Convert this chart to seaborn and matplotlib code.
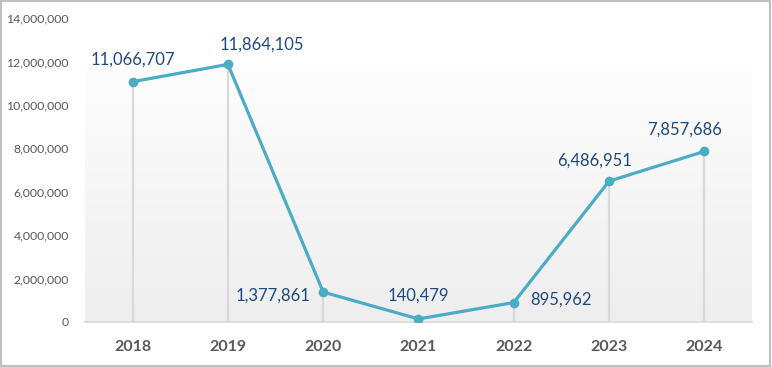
import numpy as np
import pandas as pd
import matplotlib
matplotlib.use("Agg")
import matplotlib.pyplot as plt
import seaborn as sns
from matplotlib.patches import Rectangle

years = ["2018", "2019", "2020", "2021", "2022", "2023", "2024"]
values = [11066707, 11864105, 1377861, 140479, 895962, 6486951, 7857686]
y_ticks = [0, 2000000, 4000000, 6000000, 8000000, 10000000, 12000000, 14000000]

# label placement per point: (dx px, dy px, horizontal alignment)
label_pos = [(0, 22, "center"), (34, 20, "center"), (-13, -4, "right"),
             (0, 23, "center"), (16, 3, "left"), (-15, 21, "center"),
             (-20, 22, "center")]

LINE_COLOR = "#4bacc6"
LABEL_COLOR = "#1f497d"
TICK_COLOR = "#595959"
DROP_COLOR = "#d9d9d9"


def main():
    sns.set_theme(style="white")
    plt.rcParams["font.family"] = ["Lato", "DejaVu Sans"]

    df = pd.DataFrame({"pos": np.arange(len(years)), "value": values})

    fig = plt.figure(figsize=(7.72, 3.67), dpi=100)
    fig.patch.set_facecolor("white")
    ax = fig.add_axes([85 / 772, 45 / 367, 667 / 772, 304 / 367])
    ax.set_facecolor("none")

    ax.set_xlim(-0.5, len(years) - 0.5)
    ax.set_ylim(0, 14000000)

    # gradient plot-area background
    grad = np.linspace(0, 1, 256).reshape(-1, 1)
    cmap = matplotlib.colors.LinearSegmentedColormap.from_list("bg", ["#fdfdfd", "#eeeeee"])
    ax.imshow(grad, extent=(-0.5, len(years) - 0.5, 0, 11600000), aspect="auto",
              cmap=cmap, origin="upper", zorder=0)

    # drop lines
    ax.vlines(df["pos"], 0, df["value"], color=DROP_COLOR, linewidth=1.6, zorder=1)

    sns.lineplot(data=df, x="pos", y="value", ax=ax, color=LINE_COLOR, linewidth=2.3,
                 marker="o", markersize=7, markeredgewidth=0, zorder=3)

    for (x, y), (dx, dy, ha) in zip(zip(df["pos"], df["value"]), label_pos):
        ax.annotate(f"{y:,}", (x, y), xytext=(dx, dy), textcoords="offset pixels",
                    ha=ha, va="center", fontsize=12, color=LABEL_COLOR)

    ax.set_xticks(df["pos"])
    ax.set_xticklabels(years, fontsize=11.5, fontweight="bold", color=TICK_COLOR)
    ax.set_yticks(y_ticks)
    ax.set_yticklabels([f"{t:,}" for t in y_ticks], fontsize=8.8, color=TICK_COLOR)
    ax.tick_params(axis="x", length=0, pad=13)
    ax.tick_params(axis="y", length=0, pad=11.5)
    ax.set_xlabel("")
    ax.set_ylabel("")

    for side in ["top", "right", "left"]:
        ax.spines[side].set_visible(False)
    ax.spines["bottom"].set_color(DROP_COLOR)
    ax.spines["bottom"].set_linewidth(1.2)

    fig.patches.append(Rectangle((0.001, 0.002), 0.997, 0.995, transform=fig.transFigure,
                                 fill=False, edgecolor="#bfbfbf", linewidth=1.5))

    fig.savefig("out.png", dpi=100)
    plt.close(fig)


if __name__ == "__main__":
    main()
